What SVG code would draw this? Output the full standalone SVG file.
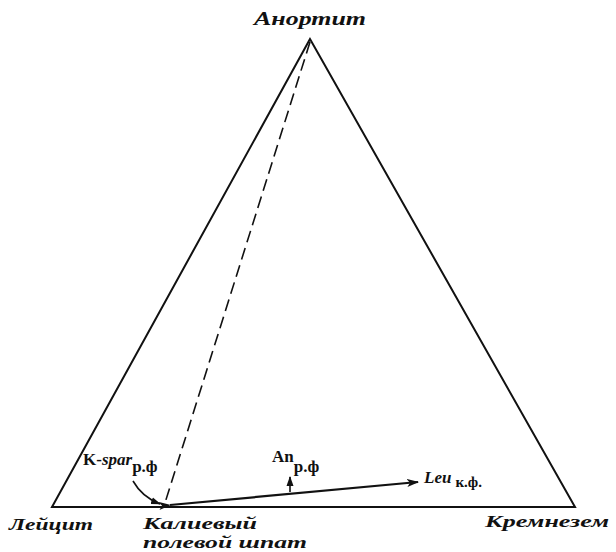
<svg xmlns="http://www.w3.org/2000/svg" width="616" height="552" viewBox="0 0 616 552">
<style>
.edge{fill:none;stroke:#111;stroke-width:2;stroke-linejoin:miter}
.dash{fill:none;stroke:#111;stroke-width:1.6;stroke-dasharray:12 6}
.arr{fill:none;stroke:#111;stroke-width:2.2}
.thin{fill:none;stroke:#111;stroke-width:1.6}
.lbl{font-family:"Liberation Serif","DejaVu Serif",serif;font-style:italic;font-weight:bold;fill:#111}
.sm{font-family:"Liberation Serif","DejaVu Serif",serif;font-weight:bold;fill:#111}
</style>
<defs>
<marker id="ah" markerWidth="12" markerHeight="8" refX="11" refY="4" orient="auto" markerUnits="userSpaceOnUse">
<path d="M0,0 L12,4 L0,8 L3,4 Z" fill="#111"/>
</marker>
<marker id="ahs" markerWidth="10" markerHeight="8" refX="9" refY="4" orient="auto" markerUnits="userSpaceOnUse">
<path d="M0,0.5 L10,4 L0,7.5 Z" fill="#111"/>
</marker>
</defs>
<rect width="616" height="552" fill="#fff"/>
<g id="triangle">
<polygon class="edge" points="310,39 52,507 575,507"/>
</g>
<g id="connectors">
<line class="dash" x1="310" y1="42" x2="164" y2="506"/>
<line class="arr" x1="170" y1="505" x2="418" y2="482" marker-end="url(#ah)" marker-start="url(#ah)"/>
<line class="thin" x1="290" y1="492" x2="290" y2="477" marker-end="url(#ahs)"/>
<path class="thin" d="M133,481 Q142,497 160,504" marker-end="url(#ahs)"/>
</g>
<g id="anorthite"><text class="lbl" x="254" y="25" font-size="19" textLength="112" lengthAdjust="spacingAndGlyphs">Анортит</text></g>
<g id="leucite"><text class="lbl" x="9" y="530" font-size="17" textLength="84" lengthAdjust="spacingAndGlyphs">Лейцит</text></g>
<g id="kspar-corner">
<text class="lbl" x="143" y="529" font-size="17" textLength="114" lengthAdjust="spacingAndGlyphs">Калиевый</text>
<text class="lbl" x="143" y="548" font-size="17" textLength="164" lengthAdjust="spacingAndGlyphs">полевой шпат</text>
</g>
<g id="silica"><text class="lbl" x="485" y="527" font-size="17" textLength="124" lengthAdjust="spacingAndGlyphs">Кремнезем</text></g>
<g id="kspar-label">
<text x="83" y="465" font-size="17"><tspan class="sm" font-weight="normal">K-</tspan><tspan class="lbl" font-weight="normal">spar</tspan><tspan class="sm" dy="7" font-size="17">р.ф</tspan></text>
</g>
<g id="an-label">
<text x="272" y="462" font-size="17"><tspan class="sm">An</tspan><tspan class="sm" dy="10">р.ф</tspan></text>
</g>
<g id="leu-label">
<text x="424" y="483" font-size="17"><tspan class="lbl">Leu</tspan><tspan class="sm" dx="4" dy="4" font-size="15">к.ф.</tspan></text>
</g>
</svg>
